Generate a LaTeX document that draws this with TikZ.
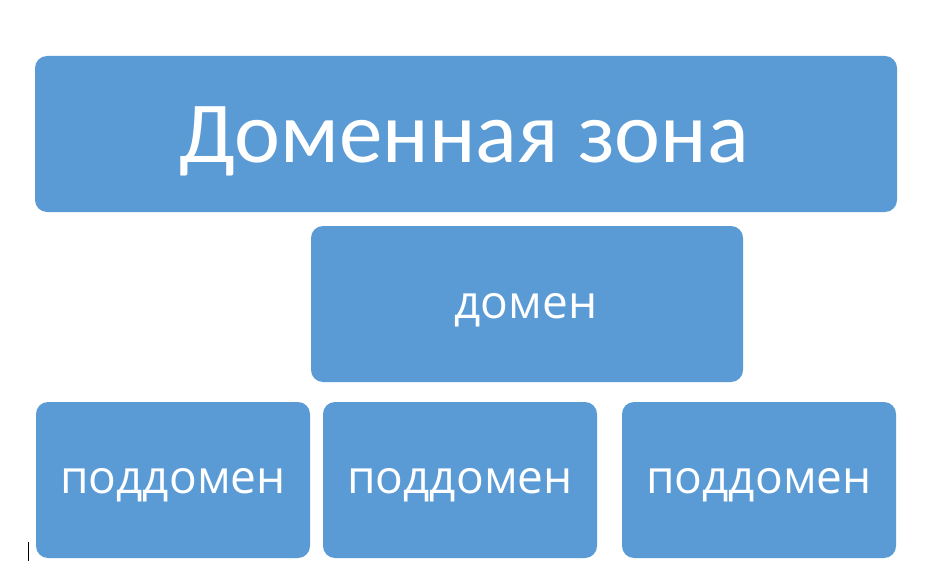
\documentclass[tikz,border=0pt]{standalone}
\usepackage{fontspec}
\newfontfamily\zonefont{Carlito}
\newfontfamily\labfont{Open Sans}
\definecolor{boxblue}{HTML}{5B9BD5}
\begin{document}
\begin{tikzpicture}[x=1pt,y=-1pt,
  box/.style={draw=none, fill=boxblue, rounded corners=12pt, inner sep=0pt},
  bigtxt/.style={text=white, inner sep=0pt, anchor=base, font=\zonefont\fontsize{87}{95}\selectfont},
  smalltxt/.style={text=white, inner sep=0pt, anchor=base, font=\labfont\fontsize{46}{52}\selectfont}]
\useasboundingbox[fill=white] (0,0) rectangle (931,588);
% boxes
\node[box, minimum width=862pt, minimum height=156pt] (zone) at (466,134) {};
\node[box, minimum width=432pt, minimum height=156pt] (dom) at (527,304) {};
\node[box, minimum width=274pt, minimum height=156pt] (sub1) at (173,480) {};
\node[box, minimum width=274pt, minimum height=156pt] (sub2) at (460,480) {};
\node[box, minimum width=274pt, minimum height=156pt] (sub3) at (759,480) {};
% texts
\node[bigtxt] (zonet) at ([xshift=-2pt,yshift=-29pt]zone.center) {Доменная зона};
\node[smalltxt] (domt) at ([xshift=-1pt,yshift=-14pt]dom.center) {домен};
\node[smalltxt] (sub1t) at ([yshift=-13pt]sub1.center) {поддомен};
\node[smalltxt] (sub2t) at ([yshift=-13pt]sub2.center) {поддомен};
\node[smalltxt] (sub3t) at ([yshift=-13pt]sub3.center) {поддомен};
% text cursor
\coordinate (c1) at (28.5,542);
\coordinate (c2) at (28.5,561);
\draw[black, line width=0.9pt] (c1) -- (c2);
\end{tikzpicture}
\end{document}
